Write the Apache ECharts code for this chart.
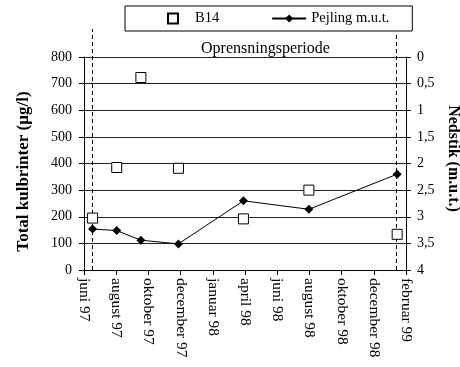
<!DOCTYPE html>
<html>
<head>
<meta charset="utf-8">
<script src="https://cdn.jsdelivr.net/npm/echarts@6/dist/echarts.min.js"></script>
<style>html,body{margin:0;padding:0;background:#fff}#c{width:460px;height:367px}</style>
</head>
<body>
<div id="c"></div>
<script>
// ---- data ----
var tickLabels = ['juni 97','august 97','oktober 97','december 97','januar 98','april 98','juni 98','august 98','oktober 98','december 98','februar 99'];
var sampleDates = ['1997-06-17','1997-08-02','1997-09-17','1997-11-27','1998-03-29','1998-07-31','1999-01-15'];
var b14Values = [195, 385, 723, 382, 192, 300, 134];
var pejlingValues = [3.23, 3.26, 3.44, 3.51, 2.70, 2.86, 2.20];
var periodDates = ['1997-06-17', '1999-01-13'];
var leftTicks = { min: 0, max: 800, interval: 100 };
var rightTicks = { min: 0, max: 4, interval: 0.5 };

function monthIndex(s) {
  var p = s.split('-').map(Number);
  var dim = new Date(p[0], p[1], 0).getDate();
  return (p[0] - 1997) * 12 + (p[1] - 6) + (p[2] - 1) / dim;
}
var font = "'Liberation Serif','Times New Roman',serif";
var xs = sampleDates.map(monthIndex);
var b14Data = xs.map(function (x, i) { return [x, b14Values[i]]; });
var pejData = xs.map(function (x, i) { return [x, pejlingValues[i]]; });
var p0 = monthIndex(periodDates[0]), p1 = monthIndex(periodDates[1]);

var chart = echarts.init(document.getElementById('c'));
var xBase = { type: 'value', min: 0, max: 20, interval: 2 };
chart.setOption({
  animation: false,
  backgroundColor: '#fff',
  textStyle: { fontFamily: font, color: '#000' },
  title: {
    text: 'Oprensningsperiode', left: 196, top: 36,
    textStyle: { fontFamily: font, fontSize: 16, fontWeight: 'normal', color: '#000' }
  },
  legend: {
    left: 125, top: 6,
    padding: [5, 23, 5, 42],
    itemGap: 52, itemWidth: 34, itemHeight: 10,
    symbolKeepAspect: true,
    borderColor: '#000', borderWidth: 1, borderRadius: 0,
    textStyle: { fontFamily: font, fontSize: 14.5, color: '#000' },
    data: [
      { name: 'B14', icon: 'path://M0,0L10,0L10,10L0,10Z' },
      'Pejling m.u.t.'
    ]
  },
  grid: [
    { left: 84, right: 54, top: 57, bottom: 97, containLabel: false, outerBoundsMode: 'none' },
    { left: 84, right: 54, top: 29, bottom: 97, containLabel: false, outerBoundsMode: 'none' }
  ],
  xAxis: [
    Object.assign({}, xBase, {
      gridIndex: 0,
      axisLine: { show: true, lineStyle: { color: '#000', width: 1 } },
      axisTick: { show: true, length: 5, lineStyle: { color: '#000' } },
      splitLine: { show: false },
      axisLabel: {
        rotate: -90, margin: 8, fontFamily: font, fontSize: 15.5, color: '#000',
        formatter: function (v) { return tickLabels[Math.round(v / 2)]; }
      }
    }),
    Object.assign({}, xBase, { gridIndex: 1, show: false })
  ],
  yAxis: [
    {
      type: 'value', gridIndex: 0, position: 'left',
      min: leftTicks.min, max: leftTicks.max, interval: leftTicks.interval,
      name: 'Total kulbrinter (\u00b5g/l)', nameLocation: 'middle', nameGap: 52,
      nameTextStyle: { fontFamily: font, fontSize: 17, fontWeight: 'bold', color: '#000', padding: [0, 16, 0, 0] },
      axisLine: { show: true, lineStyle: { color: '#000', width: 1 } },
      axisTick: { show: true, length: 5, lineStyle: { color: '#000' } },
      splitLine: { show: true, lineStyle: { color: '#222', width: 1 } },
      axisLabel: { margin: 12, fontFamily: font, fontSize: 14, color: '#000' }
    },
    {
      type: 'value', gridIndex: 0, position: 'right', inverse: true,
      min: rightTicks.min, max: rightTicks.max, interval: rightTicks.interval,
      name: 'Nedstik (m.u.t.)', nameLocation: 'middle', nameGap: 26, nameRotate: -90,
      nameTextStyle: { fontFamily: font, fontSize: 16, fontWeight: 'bold', color: '#000', padding: [0, 10, 0, 0] },
      axisLine: { show: true, lineStyle: { color: '#000', width: 1 } },
      axisTick: { show: true, length: 5, lineStyle: { color: '#000' } },
      splitLine: { show: false },
      axisLabel: {
        margin: 11, fontFamily: font, fontSize: 14, color: '#000',
        formatter: function (v) { return String(v).replace('.', ','); }
      }
    },
    { type: 'value', gridIndex: 1, min: 0, max: 1, show: false }
  ],
  series: [
    {
      name: 'periode', type: 'line', xAxisIndex: 1, yAxisIndex: 2, data: [],
      silent: true,
      markLine: {
        silent: true, symbol: 'none', label: { show: false },
        lineStyle: { color: '#000', width: 1, type: [4, 3] },
        data: [
          [{ coord: [p0, 0] }, { coord: [p0, 1] }],
          [{ coord: [p1, 0] }, { coord: [p1, 0.975] }]
        ]
      }
    },
    {
      name: 'B14', type: 'scatter', xAxisIndex: 0, yAxisIndex: 0,
      symbol: 'rect', symbolSize: 10,
      itemStyle: { color: '#fff', borderColor: '#000', borderWidth: 1, opacity: 1 },
      data: b14Data, z: 5
    },
    {
      name: 'Pejling m.u.t.', type: 'line', xAxisIndex: 0, yAxisIndex: 1,
      symbol: 'diamond', symbolSize: 9,
      lineStyle: { color: '#000', width: 1 },
      itemStyle: { color: '#000' },
      data: pejData, z: 4
    }
  ]
});
</script>
</body>
</html>
